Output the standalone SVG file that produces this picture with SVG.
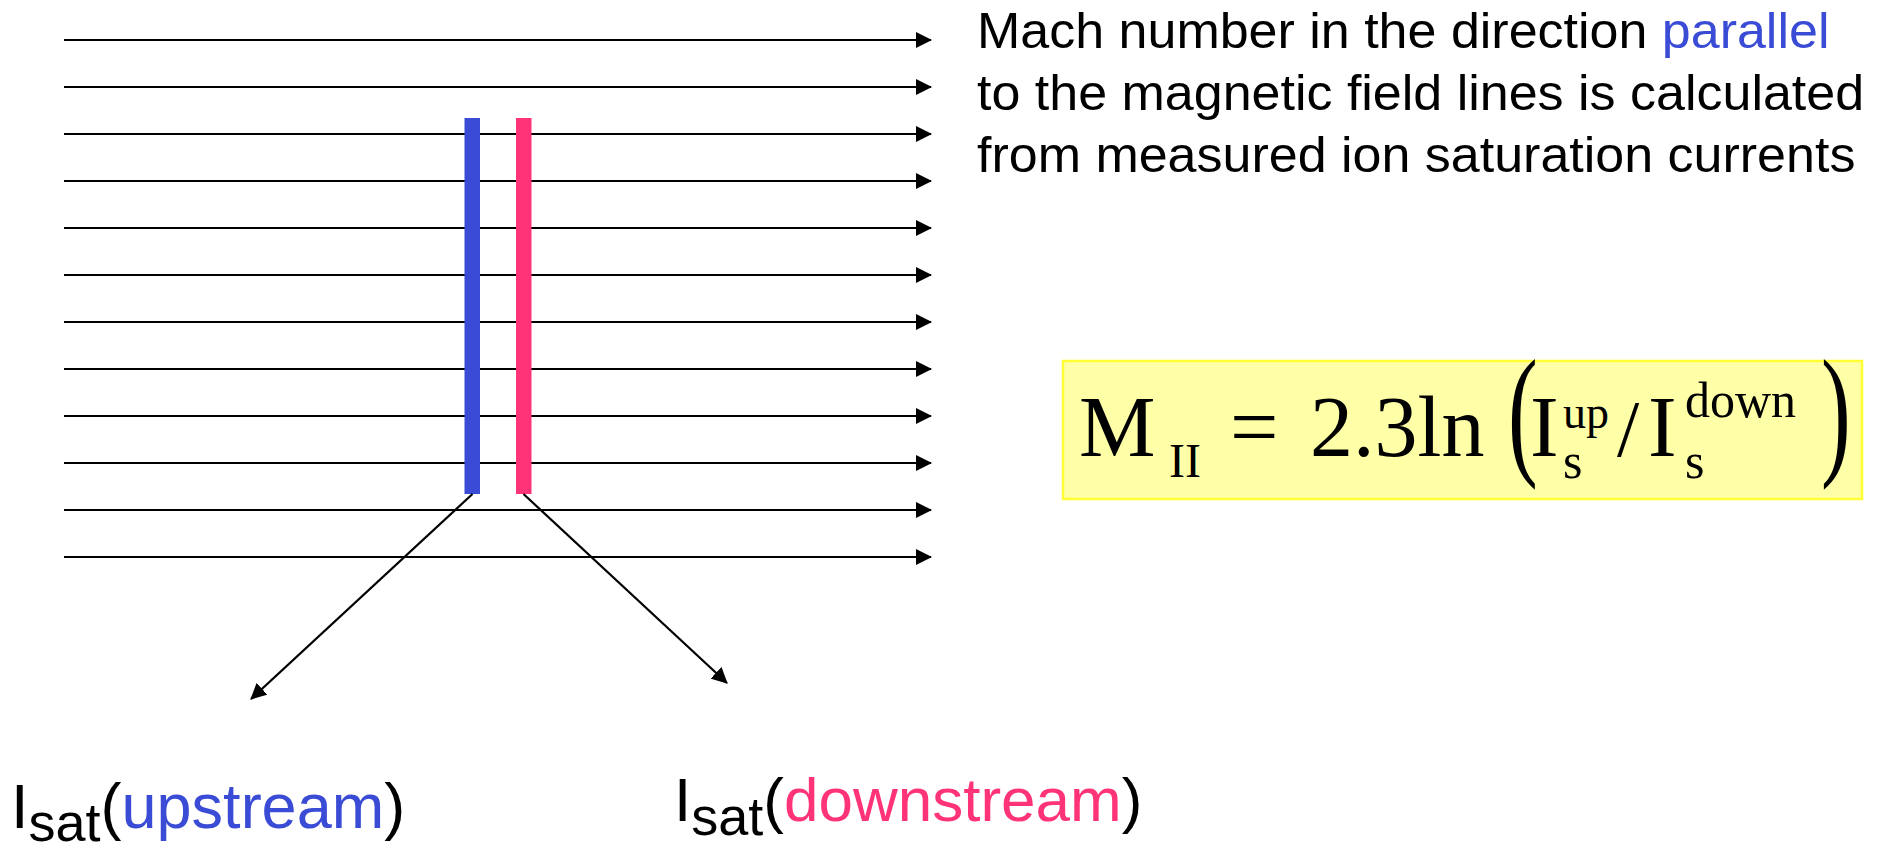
<svg xmlns="http://www.w3.org/2000/svg" width="1883" height="848" viewBox="0 0 1883 848">
<defs>
<marker id="ah" markerUnits="userSpaceOnUse" markerWidth="16" markerHeight="16" viewBox="0 0 16 16" refX="15" refY="8" orient="auto">
<path d="M0,0 L16,8 L0,16 Z" fill="#000"/>
</marker>
<style>
.fl{stroke:#000;stroke-width:2.2;fill:none;marker-end:url(#ah)}
.sans{font-family:"Liberation Sans",Arial,sans-serif}
.serif{font-family:"Liberation Serif","Times New Roman",serif;fill:#000}
.blue{fill:#3A4CD5}
.pink{fill:#FF3378}
</style>
</defs>
<rect width="1883" height="848" fill="#fff"/>
<g id="field-lines">
<line class="fl" x1="64" y1="40" x2="931" y2="40"/>
<line class="fl" x1="64" y1="87" x2="931" y2="87"/>
<line class="fl" x1="64" y1="134" x2="931" y2="134"/>
<line class="fl" x1="64" y1="181" x2="931" y2="181"/>
<line class="fl" x1="64" y1="228" x2="931" y2="228"/>
<line class="fl" x1="64" y1="275" x2="931" y2="275"/>
<line class="fl" x1="64" y1="322" x2="931" y2="322"/>
<line class="fl" x1="64" y1="369" x2="931" y2="369"/>
<line class="fl" x1="64" y1="416" x2="931" y2="416"/>
<line class="fl" x1="64" y1="463" x2="931" y2="463"/>
<line class="fl" x1="64" y1="510" x2="931" y2="510"/>
<line class="fl" x1="64" y1="557" x2="931" y2="557"/>
</g>
<g id="probe-upstream"><rect x="464.5" y="118" width="15.5" height="376" class="blue"/></g>
<g id="probe-downstream"><rect x="516" y="118" width="15.5" height="376" class="pink"/></g>
<g id="connectors">
<line class="fl" x1="472.5" y1="494" x2="251" y2="699"/>
<line class="fl" x1="523.5" y1="494" x2="727" y2="683"/>
</g>
<g id="description" class="sans" font-size="52">
<g transform="scale(1,0.95)">
<text x="977" y="50.5"><tspan>Mach number in the direction </tspan><tspan class="blue">parallel</tspan></text>
<text x="977" y="115.8">to the magnetic field lines is calculated</text>
<text x="977" y="181">from measured ion saturation currents</text>
</g>
</g>
<g id="formula">
<rect x="1063" y="361" width="799" height="138" fill="#FFFFA8" stroke="#FFFF33" stroke-width="2.5"/>
<text class="serif" x="1079" y="456" font-size="86">M</text>
<text class="serif" x="1169" y="477" font-size="48">II</text>
<text class="serif" x="1230" y="456" font-size="86">=</text>
<text class="serif" x="1310" y="456" font-size="86">2.3ln</text>
<text class="serif" font-size="144" transform="translate(1508,459) scale(0.62,1)">(</text>
<text class="serif" x="1530" y="456" font-size="86">I</text>
<text class="serif" x="1563" y="428" font-size="46">up</text>
<text class="serif" x="1563" y="478" font-size="50">s</text>
<text class="serif" x="1617" y="456" font-size="80">/</text>
<text class="serif" x="1648" y="456" font-size="86">I</text>
<text class="serif" x="1685" y="417" font-size="50">down</text>
<text class="serif" x="1685" y="478" font-size="50">s</text>
<text class="serif" font-size="144" transform="translate(1821,459) scale(0.62,1)">)</text>
</g>
<g id="label-upstream">
<text class="sans" x="11" y="828" font-size="63">I<tspan font-size="54" dy="13">sat</tspan><tspan dy="-13">(</tspan><tspan class="blue">upstream</tspan>)</text>
</g>
<g id="label-downstream">
<text class="sans" x="674" y="821" font-size="62">I<tspan font-size="54" dy="14">sat</tspan><tspan dy="-14">(</tspan><tspan class="pink">downstream</tspan>)</text>
</g>
</svg>
